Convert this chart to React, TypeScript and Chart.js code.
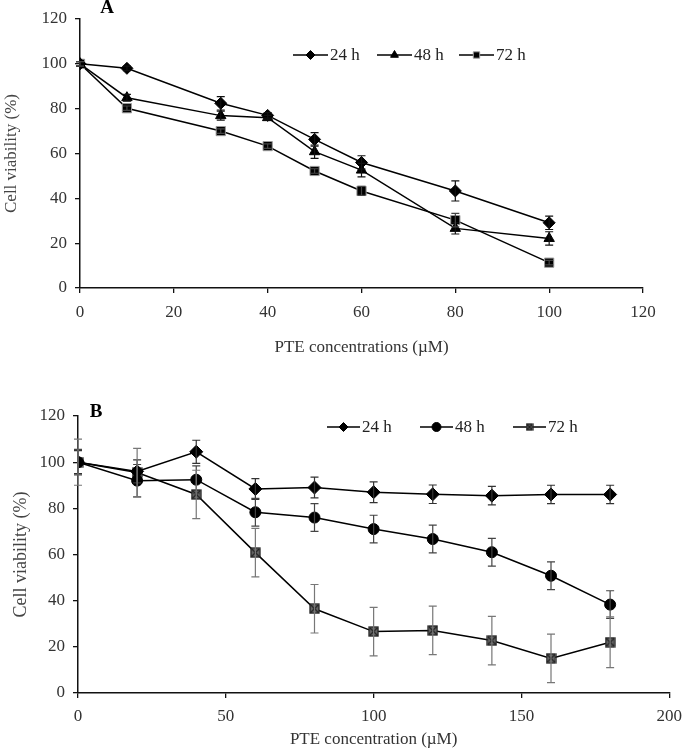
import React, { useEffect, useRef } from "react";
import { Chart, registerables } from "chart.js";
import { drawPoint } from "chart.js/helpers";

Chart.register(...registerables);

// ---------- Panel A data ----------
const concA = [0, 10, 30, 40, 50, 60, 80, 100];
const a24 = [100, 98, 82.4, 77, 66.3, 56, 43.3, 29.1];
const a24Err = [1, 1, 3, 1.2, 3, 3, 4.5, 3];
const a48 = [100, 84.9, 76.9, 76, 60.8, 52.6, 26.6, 22.1];
const a48Err = [1, 1.5, 2, 1, 3, 3, 2.5, 3];
const a72 = [100, 80.2, 70, 63.3, 52.2, 43.3, 30.3, 11.3];
const a72Err = [1, 1, 1, 1, 1, 2, 3, 1];

// ---------- Panel B data ----------
const concB = [0, 20, 40, 60, 80, 100, 120, 140, 160, 180];
const b24 = [100, 96, 104.5, 88.4, 89, 87, 86.1, 85.5, 86, 86];
const b24Err = [5, 5, 5, 4.5, 4.5, 4.5, 4, 4, 4, 4];
const b48 = [100, 92, 92.4, 78.3, 76, 71, 66.7, 61, 50.8, 38.3];
const b48Err = [5.5, 7, 6, 6, 6, 6, 6, 6, 6, 6];
const b72 = [100, 95.5, 86, 60.8, 36.5, 26.6, 27.1, 22.7, 15, 22];
const b72Err = [10, 10.5, 10.5, 10.5, 10.5, 10.5, 10.5, 10.5, 10.5, 11];

const seriesLabels = ["24 h", "48 h", "72 h"];
const yTicks = [0, 20, 40, 60, 80, 100, 120];

const FONT = "'Liberation Serif', 'Times New Roman', serif";

function makeXSquare(size: number) {
  const c = document.createElement("canvas");
  c.width = size;
  c.height = size;
  const ctx = c.getContext("2d")!;
  ctx.fillStyle = "#666";
  ctx.fillRect(1, 1, size - 2, size - 2);
  ctx.strokeStyle = "#222";
  ctx.lineWidth = 1.3;
  ctx.strokeRect(1, 1, size - 2, size - 2);
  ctx.beginPath();
  ctx.moveTo(1.5, 1.5);
  ctx.lineTo(size - 1.5, size - 1.5);
  ctx.moveTo(size - 1.5, 1.5);
  ctx.lineTo(1.5, size - 1.5);
  ctx.stroke();
  return c;
}

const errorBarPlugin = {
  id: "errorBars",
  afterDatasetsDraw(chart: any) {
    const { ctx } = chart;
    const xs = chart.scales.x;
    const ys = chart.scales.y;
    chart.data.datasets.forEach((ds: any) => {
      const errs: number[] = ds.errors || [];
      ctx.save();
      ctx.strokeStyle = ds.errorColor || "#000";
      ctx.lineWidth = 1.2;
      ds.data.forEach((p: any, i: number) => {
        const e = errs[i];
        if (!e) return;
        const x = xs.getPixelForValue(p.x);
        const y1 = ys.getPixelForValue(p.y + e);
        const y2 = ys.getPixelForValue(p.y - e);
        const cap = 4;
        ctx.beginPath();
        ctx.moveTo(x, y1);
        ctx.lineTo(x, y2);
        ctx.moveTo(x - cap, y1);
        ctx.lineTo(x + cap, y1);
        ctx.moveTo(x - cap, y2);
        ctx.lineTo(x + cap, y2);
        ctx.stroke();
      });
      ctx.restore();
    });
  },
};

const legendPlugin = {
  id: "customLegend",
  afterDraw(chart: any) {
    const opts = chart.options.plugins.customLegend;
    if (!opts) return;
    const { ctx } = chart;
    ctx.save();
    // panel letter
    ctx.font = `bold 19px ${FONT}`;
    ctx.fillStyle = "#000";
    ctx.textAlign = "center";
    ctx.textBaseline = "middle";
    ctx.fillText(opts.panel, opts.panelX, opts.panelY);

    ctx.font = `17px ${FONT}`;
    ctx.textAlign = "left";
    chart.data.datasets.forEach((ds: any, i: number) => {
      const x0 = opts.items[i];
      const y = opts.y;
      const len = opts.lineLen;
      ctx.strokeStyle = "#000";
      ctx.lineWidth = 1.5;
      ctx.beginPath();
      ctx.moveTo(x0, y);
      ctx.lineTo(x0 + len, y);
      ctx.stroke();
      ctx.fillStyle = ds.pointBackgroundColor;
      ctx.strokeStyle = ds.pointBorderColor;
      ctx.lineWidth = 1;
      drawPoint(
        ctx,
        { pointStyle: ds.legendStyle || ds.pointStyle, radius: opts.markerRadius, rotation: 0, borderWidth: 1 },
        x0 + len / 2,
        y
      );
      ctx.fillStyle = "#222";
      ctx.fillText(ds.label, x0 + len + 2, y + 1);
    });
    ctx.restore();
  },
};

function toPts(xs: number[], ys: number[]) {
  return xs.map((x, i) => ({ x, y: ys[i] }));
}

function makeConfig(p: {
  datasets: any[];
  xMax: number;
  xStep: number;
  xTitle: string;
  left: number;
  top: number;
  right: number;
  xHeight: number;
  xTickPad: number;
  xTitlePad: number;
  yTitlePad: number;
  yTitleSize: number;
  legend: any;
}) {
  return {
    type: "line",
    data: { datasets: p.datasets },
    options: {
      animation: false,
      responsive: false,
      events: [],
      layout: { padding: { left: 0, top: p.top, right: p.right, bottom: 0 } },
      plugins: {
        legend: { display: false },
        tooltip: { enabled: false },
        customLegend: p.legend,
      },
      scales: {
        x: {
          type: "linear",
          min: 0,
          max: p.xMax,
          afterFit: (s: any) => {
            s.height = p.xHeight;
          },
          afterBuildTicks: (s: any) => {
            const t = [];
            for (let v = 0; v <= p.xMax; v += p.xStep) t.push({ value: v });
            s.ticks = t;
          },
          grid: {
            display: true,
            drawOnChartArea: false,
            drawTicks: true,
            tickLength: 5,
            color: "#111",
            lineWidth: 1.3,
          },
          border: { display: true, color: "#111", width: 1.5 },
          ticks: {
            color: "#333",
            font: { family: FONT, size: 17 },
            padding: p.xTickPad,
            maxRotation: 0,
          },
          title: {
            display: true,
            text: p.xTitle,
            color: "#333",
            font: { family: FONT, size: 17 },
            padding: { top: 0, bottom: p.xTitlePad },
          },
        },
        y: {
          type: "linear",
          min: 0,
          max: 120,
          afterFit: (s: any) => {
            s.width = p.left;
          },
          afterBuildTicks: (s: any) => {
            s.ticks = yTicks.map((v) => ({ value: v }));
          },
          grid: {
            display: true,
            drawOnChartArea: false,
            drawTicks: true,
            tickLength: 5,
            color: "#111",
            lineWidth: 1.3,
          },
          border: { display: true, color: "#111", width: 1.5 },
          ticks: {
            color: "#333",
            font: { family: FONT, size: 17 },
            padding: 8,
          },
          title: {
            display: true,
            text: "Cell viability (%)",
            color: "#444",
            font: { family: FONT, size: p.yTitleSize },
            padding: { top: p.yTitlePad, bottom: 0 },
          },
        },
      },
    },
    plugins: [errorBarPlugin, legendPlugin],
  };
}

function ChartCanvas({ config, width, height }: { config: () => any; width: number; height: number }) {
  const ref = useRef<HTMLCanvasElement>(null);
  useEffect(() => {
    const chart = new Chart(ref.current as HTMLCanvasElement, config());
    return () => chart.destroy();
  }, []);
  return <canvas ref={ref} width={width} height={height} style={{ display: "block", width, height }} />;
}

function lineDs(label: string, xs: number[], ys: number[], errs: number[], style: any, pointRadius: number, errorColor: string, border = "#000") {
  return {
    label,
    data: toPts(xs, ys),
    errors: errs,
    errorColor,
    borderColor: "#000",
    borderWidth: 1.5,
    pointStyle: style,
    pointRadius,
    pointBackgroundColor: "#000",
    pointBorderColor: border,
    pointBorderWidth: 1,
    fill: false,
    tension: 0,
  };
}

const configA = () =>
  makeConfig({
    datasets: [
      lineDs(seriesLabels[0], concA, a24, a24Err, "rectRot", 6, "#111"),
      lineDs(seriesLabels[1], concA, a48, a48Err, "triangle", 6, "#111"),
      lineDs(seriesLabels[2], concA, a72, a72Err, "rect", 6.5, "#444", "#999"),
    ],
    xMax: 120,
    xStep: 20,
    xTitle: "PTE concentrations (\u00b5M)",
    left: 80,
    top: 19,
    right: 47,
    xHeight: 72,
    xTickPad: 9,
    xTitlePad: 2,
    yTitlePad: 1,
    yTitleSize: 17,
    legend: {
      panel: "A",
      panelX: 107,
      panelY: 8,
      y: 55,
      lineLen: 35,
      items: [293, 377, 459],
      markerRadius: 4.5,
    },
  });

const xSq = typeof document !== "undefined" ? makeXSquare(11) : null;
const xSqSmall = typeof document !== "undefined" ? makeXSquare(8) : null;

const configB = () => {
  const d72: any = lineDs(seriesLabels[2], concB, b72, b72Err, xSq, 6, "#777");
  d72.legendStyle = xSqSmall;
  return makeConfig({
    datasets: [
      lineDs(seriesLabels[0], concB, b24, b24Err, "rectRot", 6.5, "#333"),
      lineDs(seriesLabels[1], concB, b48, b48Err, "circle", 5.5, "#444"),
      d72,
    ],
    xMax: 200,
    xStep: 50,
    xTitle: "PTE concentration (\u00b5M)",
    left: 78,
    top: 56,
    right: 16,
    xHeight: 57,
    xTickPad: 8,
    xTitlePad: 0,
    yTitlePad: 10,
    yTitleSize: 18,
    legend: {
      panel: "B",
      panelX: 96,
      panelY: 52,
      y: 67,
      lineLen: 33,
      items: [327, 420, 513],
      markerRadius: 4.5,
    },
  });
};

export default function App() {
  return (
    <div style={{ position: "absolute", left: 0, top: 0, width: 690, height: 750, background: "#fff" }}>
      <div style={{ position: "absolute", left: 0, top: 0 }}>
        <ChartCanvas config={configA} width={690} height={360} />
      </div>
      <div style={{ position: "absolute", left: 0, top: 360 }}>
        <ChartCanvas config={configB} width={690} height={390} />
      </div>
    </div>
  );
}
